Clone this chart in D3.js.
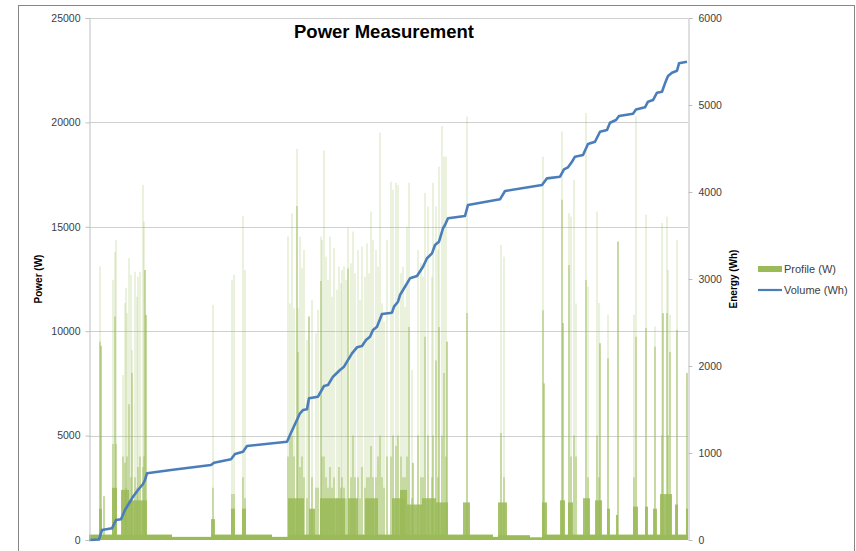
<!DOCTYPE html>
<html>
<head>
<meta charset="utf-8">
<script src="https://cdn.jsdelivr.net/npm/d3@7/dist/d3.min.js"></script>
<style>
  body { margin: 0; background: #fff; }
  svg { display: block; font-family: "Liberation Sans", Arial, sans-serif; }
</style>
</head>
<body>
<svg id="chart" width="856" height="551"></svg>
<script>
// sample index (0..599) along the x axis, no labels shown
const powerTicks = [0, 5000, 10000, 15000, 20000, 25000];
const energyTicks = [0, 1000, 2000, 3000, 4000, 5000, 6000];

// standby level [from, to, W]
const baseLoad = [
  [0, 83, 260], [83, 122, 150], [122, 183, 260], [183, 199, 150],
  [199, 404, 260], [404, 409, 150], [409, 441, 230], [441, 453, 130], [453, 599, 260]
];

// dense low bursts [from, to, W]
const bursts = [
  [10, 13, 1500], [23, 28, 2500], [32, 40, 2400], [40, 58, 1900],
  [122, 126, 1000], [142, 146, 1500], [153, 157, 1500],
  [199, 215, 2000], [220, 226, 1500], [231, 256, 2000], [259, 269, 2000],
  [276, 289, 2000], [303, 316, 2000], [311, 318, 2400], [318, 333, 1700],
  [333, 347, 2000], [347, 359, 1800], [374, 381, 1800], [409, 418, 1800],
  [453, 458, 1800], [471, 476, 1900], [479, 484, 1800], [494, 501, 2000],
  [506, 513, 1900], [518, 521, 1500], [527, 529, 1200], [544, 549, 1600],
  [556, 559, 1600], [564, 568, 1500], [571, 583, 2200], [586, 589, 1700],
  [597, 599, 1500]
];

// spikes [at, peak W, dense core W]
const spikes = [
  [11, 13100, 9500], [12, 9300, 9300], [15, 2100, 2100], [24, 12450, 4600],
  [26, 13800, 10700], [27, 14370, 4600], [34, 7900, 4000], [36, 11350, 3700],
  [37, 12070, 2500], [38, 10870, 4000], [40, 13500, 6500], [42, 12700, 3000],
  [43, 9100, 8000], [46, 12850, 3000], [48, 11650, 2500], [49, 12600, 3500],
  [51, 12850, 4000], [54, 17000, 3500], [55, 15250, 4000], [56, 12930, 12930],
  [57, 10780, 10780],
  [124, 11260, 2500], [143, 12450, 2200], [145, 12700, 2200], [154, 15520, 3000],
  [156, 12930, 2000],
  [199, 14530, 4000], [201, 11330, 5000], [203, 15650, 5000], [205, 11100, 4000],
  [208, 18730, 16000], [209, 11100, 9000], [211, 14530, 3500], [213, 13030, 4000],
  [215, 13890, 3000], [218, 9580, 2000], [220, 10700, 10700], [223, 11500, 3000],
  [227, 9900, 2500], [229, 11020, 2500], [232, 14530, 12400], [233, 14370, 4000],
  [235, 18650, 4000], [237, 13570, 3000], [239, 12450, 2500], [241, 14530, 3500],
  [243, 11650, 2500], [245, 13990, 3000], [248, 11980, 2000], [250, 13090, 3500],
  [252, 12290, 2500], [253, 12930, 3000], [255, 13090, 2500], [257, 12450, 2000],
  [259, 14940, 13000], [262, 13250, 3000], [264, 14770, 5000], [266, 12770, 3000],
  [269, 13890, 3000], [271, 11500, 2000], [273, 14050, 3500], [276, 12610, 2500],
  [278, 14210, 3000], [280, 12770, 3000], [282, 15730, 4500], [284, 14370, 3000],
  [287, 13890, 3000], [289, 13090, 4000], [291, 19500, 5000], [293, 11330, 3000],
  [295, 10460, 2500], [298, 14370, 4000], [302, 17160, 4000], [304, 16770, 5000],
  [307, 17100, 4500], [309, 17000, 5000], [312, 12770, 4000], [314, 13090, 3000],
  [316, 11170, 3000], [318, 15000, 4000], [320, 17100, 10200], [323, 8140, 2000],
  [324, 3690, 3690], [329, 13890, 5000], [332, 13250, 3000], [334, 12610, 3000],
  [336, 16620, 9740], [339, 15970, 5000], [343, 12610, 3000], [344, 17100, 5000],
  [347, 15970, 8600], [349, 13890, 3000], [350, 17880, 10200], [353, 19830, 5000],
  [355, 18360, 8000], [357, 18360, 4000], [358, 9500, 9500],
  [378, 20280, 10870], [412, 14130, 5130], [415, 13570, 3000],
  [454, 18360, 11000], [455, 7500, 7500], [473, 19560, 16290], [474, 10390, 10390],
  [480, 15650, 13170], [482, 15490, 4000], [485, 17240, 5000], [487, 11330, 4000],
  [497, 20450, 12450], [499, 12130, 3000], [508, 15730, 5000], [510, 11350, 3000],
  [511, 9420, 9420], [519, 10780, 8700], [529, 14290, 14290], [545, 10780, 3000],
  [547, 20280, 9740], [557, 15570, 10150], [566, 10220, 9260], [573, 15180, 5000],
  [574, 10860, 10860], [578, 15490, 10870], [579, 12930, 5000], [581, 10780, 9000],
  [588, 14370, 10060], [598, 8000, 8000]
];

// cumulative energy [at, Wh]
const volume = [
  [0, 0], [10, 5], [13, 115], [23, 134], [27, 230], [32, 238], [36, 345],
  [41, 440], [44, 498], [49, 575], [54, 644], [56, 690], [58, 767], [82, 805],
  [122, 862], [125, 889], [142, 928], [146, 988], [154, 1015], [158, 1080],
  [198, 1130], [201, 1207], [211, 1456], [214, 1494], [218, 1502], [220, 1629],
  [229, 1647], [235, 1770], [239, 1782], [244, 1877], [251, 1954], [255, 1992],
  [263, 2146], [268, 2215], [273, 2230], [277, 2299], [281, 2337], [284, 2414],
  [288, 2452], [293, 2598], [303, 2613], [305, 2682], [309, 2739], [311, 2816],
  [316, 2911], [321, 3008], [328, 3034], [334, 3141], [338, 3238], [343, 3295],
  [346, 3391], [350, 3429], [354, 3583], [356, 3621], [359, 3698], [376, 3724],
  [379, 3851], [411, 3916], [416, 4011], [453, 4080], [458, 4157], [471, 4176],
  [475, 4261], [479, 4284], [483, 4348], [486, 4406], [494, 4425], [499, 4552],
  [506, 4578], [511, 4693], [518, 4713], [521, 4796], [527, 4827], [530, 4873],
  [544, 4900], [547, 4948], [556, 4973], [559, 5038], [564, 5057], [568, 5141],
  [573, 5153], [576, 5249], [579, 5333], [583, 5371], [588, 5394], [590, 5479],
  [598, 5498]
];

const green = "#9bbb59", blue = "#4a7ebb";
const plot = {left: 89, right: 688, top: 18, bottom: 540};

const svg = d3.select("#chart");

// chart frame
svg.append("rect")
  .attr("x", 18.5).attr("y", 5.5)
  .attr("width", 836).attr("height", 560)
  .attr("fill", "#fff").attr("stroke", "#868686");

const x = d3.scaleLinear().domain([0, 599]).range([plot.left, plot.right]);
const yP = d3.scaleLinear().domain([0, 25000]).range([plot.bottom, plot.top]);
const yE = d3.scaleLinear().domain([0, 6000]).range([plot.bottom, plot.top]);

// gridlines
svg.append("g")
  .selectAll("line")
  .data(powerTicks.slice(1))
  .enter().append("line")
    .attr("x1", plot.left).attr("x2", plot.right)
    .attr("y1", d => Math.round(yP(d)) + 0.5)
    .attr("y2", d => Math.round(yP(d)) + 0.5)
    .attr("stroke", "#d0d0d0").attr("stroke-width", 1.2);

// profile: standby level
svg.append("g")
  .selectAll("rect")
  .data(baseLoad)
  .enter().append("rect")
    .attr("x", d => x(d[0]))
    .attr("width", d => x(d[1]) - x(d[0]))
    .attr("y", d => yP(d[2]))
    .attr("height", d => yP(0) - yP(d[2]))
    .attr("fill", green);

// profile: bursts
svg.append("g")
  .selectAll("rect")
  .data(bursts)
  .enter().append("rect")
    .attr("x", d => x(d[0]))
    .attr("width", d => x(d[1]) - x(d[0]))
    .attr("y", d => yP(d[2]))
    .attr("height", d => yP(0) - yP(d[2]))
    .attr("fill", green)
    .attr("opacity", 0.88);

// profile: spikes (pale peak + denser core)
const sp = svg.append("g");
sp.selectAll("line.peak")
  .data(spikes)
  .enter().append("line")
    .classed("peak", true)
    .attr("x1", d => x(d[0])).attr("x2", d => x(d[0]))
    .attr("y1", yP(0)).attr("y2", d => yP(d[1]))
    .attr("stroke", green).attr("stroke-width", 1)
    .attr("stroke-opacity", 0.42);
sp.selectAll("line.core")
  .data(spikes)
  .enter().append("line")
    .classed("core", true)
    .attr("x1", d => x(d[0])).attr("x2", d => x(d[0]))
    .attr("y1", yP(0)).attr("y2", d => yP(d[2]))
    .attr("stroke", green).attr("stroke-width", 1.1)
    .attr("stroke-opacity", 0.8);

// volume line
const line = d3.line().x(d => x(d[0])).y(d => yE(d[1]));
svg.append("path")
  .datum(volume)
  .attr("d", line)
  .attr("fill", "none")
  .attr("stroke", blue)
  .attr("stroke-width", 2.6)
  .attr("stroke-linejoin", "round");

// axes
const leftAxis = d3.axisLeft(yP).tickValues(powerTicks).tickFormat(d3.format("d"))
  .tickSize(4).tickPadding(5);
const rightAxis = d3.axisRight(yE).tickValues(energyTicks).tickFormat(d3.format("d"))
  .tickSize(4).tickPadding(6);

const gl = svg.append("g")
  .attr("transform", "translate(" + (plot.left + 0.5) + ",0)")
  .call(leftAxis);
const gr = svg.append("g")
  .attr("transform", "translate(" + (plot.right + 0.5) + ",0)")
  .call(rightAxis);

[gl, gr].forEach(g => {
  g.select(".domain").attr("stroke", "#bfbfbf");
  g.selectAll(".tick line").attr("stroke", "#bfbfbf");
  g.selectAll(".tick text")
    .attr("fill", "#404040")
    .style("font-size", "10.5px")
    .style("font-family", "'Liberation Sans', Arial, sans-serif");
});

// axis titles
svg.append("text")
  .text("Power (W)")
  .attr("transform", "translate(42," + 279 + ") rotate(-90)")
  .attr("text-anchor", "middle")
  .style("font-size", "10px").style("font-weight", "bold").attr("fill", "#000");
svg.append("text")
  .text("Energy (Wh)")
  .attr("transform", "translate(737," + 279 + ") rotate(-90)")
  .attr("text-anchor", "middle")
  .style("font-size", "10px").style("font-weight", "bold").attr("fill", "#000");

// title
svg.append("text")
  .text("Power Measurement")
  .attr("x", 384).attr("y", 38)
  .attr("text-anchor", "middle")
  .style("font-size", "18.5px").style("font-weight", "bold").attr("fill", "#000");

// legend
const legend = svg.append("g").attr("transform", "translate(758,0)");
legend.append("rect")
  .attr("x", 0).attr("y", 266).attr("width", 24).attr("height", 6)
  .attr("fill", green);
legend.append("text").text("Profile (W)")
  .attr("x", 26).attr("y", 273)
  .style("font-size", "11px").attr("fill", "#404040");
legend.append("line")
  .attr("x1", 0).attr("x2", 24).attr("y1", 290).attr("y2", 290)
  .attr("stroke", blue).attr("stroke-width", 2.2);
legend.append("text").text("Volume (Wh)")
  .attr("x", 26).attr("y", 294)
  .style("font-size", "11px").attr("fill", "#404040");
</script>
</body>
</html>
